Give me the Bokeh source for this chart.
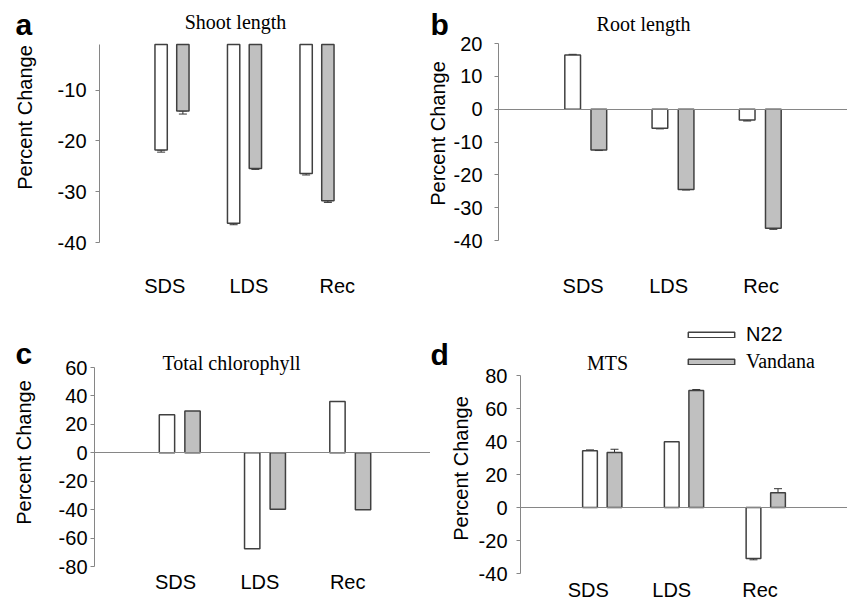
import math
from bokeh.plotting import figure
from bokeh.models import (Range1d, FixedTicker, Label, Whisker, TeeHead, LinearAxis,
                          ColumnDataSource, Legend, LegendItem)
from bokeh.layouts import row, column
from bokeh.embed import file_html
from bokeh.resources import INLINE

# ---------------- data ----------------
categories = ["SDS", "LDS", "Rec"]
series = ["N22", "Vandana"]
ylabel = "Percent Change"

shoot_n22 = [-21.8, -36.2, -26.4]
shoot_n22_err = [0.4, 0.3, 0.3]
shoot_van = [-14.1, -25.4, -31.8]
shoot_van_err = [0.6, 0.2, 0.3]
shoot_ticks = [-40, -30, -20, -10]

root_n22 = [16.5, -5.8, -3.3]
root_n22_err = [0.2, 0.2, 0.3]
root_van = [-12.4, -24.5, -36.3]
root_van_err = [0.2, 0.1, 0.3]
root_ticks = [-40, -30, -20, -10, 0, 10, 20]

chl_n22 = [26.8, -67.5, 36.0]
chl_n22_err = [0.0, 0.0, 0.0]
chl_van = [29.4, -39.7, -40.0]
chl_van_err = [0.0, 0.0, 0.0]
chl_ticks = [-80, -60, -40, -20, 0, 20, 40, 60]

mts_n22 = [34.4, 39.8, -30.9]
mts_n22_err = [0.5, 0.0, 0.8]
mts_van = [33.3, 70.9, 8.9]
mts_van_err = [2.0, 0.6, 2.5]
mts_ticks = [-40, -20, 0, 20, 40, 60, 80]

# ---------------- style ----------------
SANS = "Liberation Sans"
SERIF = "Liberation Serif"
EDGE = "#404040"
AXIS = "#868686"
FILLS = ["#ffffff", "#c0c0c0"]
OFFSET = 0.15


def make_panel(cfg):
    fx0, fy0, fw, fh = cfg["fig"]
    fl, fr, ft, fb = cfg["area"]
    y0, y1 = cfg["yr"]
    sx = 4.0 / (fr - fl)
    sy = (y1 - y0) / (fb - ft)

    def to_data(px, py):
        return (px - fl) * sx, y1 - (py - ft) * sy

    xa0, ya1 = to_data(fx0, fy0)
    xa1, ya0 = to_data(fx0 + fw, fy0 + fh)
    p = figure(width=fw, height=fh, output_backend="svg", toolbar_location=None,
               x_range=Range1d(xa0, xa1), y_range=Range1d(ya0, ya1),
               x_axis_location=None, y_axis_location=None,
               min_border=0, min_border_left=0, min_border_right=0,
               min_border_top=0, min_border_bottom=0)
    p.outline_line_color = None
    p.grid.visible = False
    p.background_fill_color = "white"
    p.border_fill_color = "white"

    # value axis
    ya = LinearAxis(fixed_location=0, bounds=(y0, y1),
                    ticker=FixedTicker(ticks=cfg["ticks"]),
                    major_label_overrides={t: str(t) for t in cfg["ticks"]},
                    axis_line_color=AXIS, major_tick_line_color=AXIS,
                    major_tick_out=4, major_tick_in=0, minor_tick_line_color=None,
                    major_label_text_font=SANS, major_label_text_font_size="20px",
                    major_label_text_color="black", major_label_standoff=cfg["ystand"])
    p.add_layout(ya, "left")

    # category labels
    xpos = [round(i + 1 + s, 2) for i, s in enumerate(cfg["lshift"])]
    xa = LinearAxis(fixed_location=y0, ticker=FixedTicker(ticks=xpos),
                    major_label_overrides={xv: c for xv, c in zip(xpos, categories)},
                    axis_line_color=None, major_tick_line_color=None,
                    minor_tick_line_color=None, major_label_text_font=SANS,
                    major_label_text_font_size="20px", major_label_text_color="black",
                    major_label_standoff=cfg["xstand"])
    p.add_layout(xa, "below")

    # horizontal (zero) axis line
    if cfg["zero"]:
        za = LinearAxis(fixed_location=0, bounds=(0, 4), ticker=FixedTicker(ticks=[]),
                        axis_line_color=AXIS, axis_line_width=1,
                        major_tick_line_color=None, minor_tick_line_color=None)
        p.add_layout(za, "below")

    base = cfg["base"]
    renderers = []
    for k, (vals, errs) in enumerate(cfg["series"]):
        xs = [i + 1 + (2 * k - 1) * OFFSET for i in range(len(categories))]
        src = ColumnDataSource(dict(x=xs, top=vals, bottom=[base] * len(vals)))
        r = p.vbar(x="x", top="top", bottom="bottom", width=cfg["bw"], source=src,
                   fill_color=FILLS[k], line_color=EDGE, line_width=1.5)
        renderers.append(r)
        if any(e > 0 for e in errs):
            lo = [v - e if v < base else v for v, e in zip(vals, errs)]
            hi = [v if v < base else v + e for v, e in zip(vals, errs)]
            es = ColumnDataSource(dict(x=xs, lower=lo, upper=hi))
            w = Whisker(base="x", lower="lower", upper="upper", source=es,
                        line_color="#333333", line_width=1,
                        lower_head=TeeHead(size=8, line_color="#333333", line_width=1),
                        upper_head=TeeHead(size=8, line_color="#333333", line_width=1))
            p.add_layout(w)

    # title
    tx, ty = to_data(*cfg["title_px"])
    p.add_layout(Label(x=tx, y=ty, text=cfg["title"], text_font=SERIF,
                       text_font_size="20px", text_align="center",
                       text_baseline="middle", text_color="black"))
    # panel letter
    lx, ly = to_data(*cfg["letter_px"])
    p.add_layout(Label(x=lx, y=ly, text=cfg["letter"], text_font=SANS,
                       text_font_size="30px", text_font_style="bold",
                       text_align="left", text_baseline="middle", text_color="black"))
    # y label
    ax, ay = to_data(*cfg["ylab_px"])
    p.add_layout(Label(x=ax, y=ay, text=ylabel, text_font=SANS, text_font_size="20px",
                       angle=math.pi / 2, text_align="center", text_baseline="middle",
                       text_color="black"))
    return p, renderers


cfg_a = dict(fig=(0, 0, 420, 300), area=(99, 389, 44, 242), yr=(-40, -1),
             ticks=shoot_ticks, ystand=9, xstand=26, lshift=[-0.10, 0.06, 0.28],
             base=-1, bw=0.17, zero=False,
             series=[(shoot_n22, shoot_n22_err), (shoot_van, shoot_van_err)],
             title="Shoot length", title_px=(235, 21), letter="a", letter_px=(15, 24),
             ylab_px=(24, 117))
cfg_b = dict(fig=(420, 0, 427, 300), area=(498, 847, 43, 240), yr=(-40, 20),
             ticks=root_ticks, ystand=12, xstand=28, lshift=[-0.03, -0.05, 0.01],
             base=0, bw=0.18, zero=True,
             series=[(root_n22, root_n22_err), (root_van, root_van_err)],
             title="Root length", title_px=(643, 23), letter="b", letter_px=(430, 24),
             ylab_px=(437, 133))
cfg_c = dict(fig=(0, 300, 430, 300), area=(94, 435, 367, 566), yr=(-80, 60),
             ticks=chl_ticks, ystand=3, xstand=-2, lshift=[-0.05, -0.06, -0.03],
             base=0, bw=0.18, zero=True,
             series=[(chl_n22, chl_n22_err), (chl_van, chl_van_err)],
             title="Total chlorophyll", title_px=(231, 362), letter="c", letter_px=(15, 353),
             ylab_px=(23, 452))
cfg_d = dict(fig=(430, 300, 417, 300), area=(520, 847, 375, 573), yr=(-40, 80),
             ticks=mts_ticks, ystand=9, xstand=-1, lshift=[-0.17, -0.15, -0.07],
             base=0, bw=0.18, zero=True,
             series=[(mts_n22, mts_n22_err), (mts_van, mts_van_err)],
             title="MTS", title_px=(607, 362), letter="d", letter_px=(430, 354),
             ylab_px=(460, 468))

pa, _ = make_panel(cfg_a)
pb, _ = make_panel(cfg_b)
pc, _ = make_panel(cfg_c)
pd, rd = make_panel(cfg_d)

# legend (two single-item legends: the original uses different faces)
fx0_d = cfg_d["fig"][0]
leg_fonts = [SANS, SERIF]
leg_loc = [(682 - fx0_d, 254), (682 - fx0_d, 227)]
for k in range(2):
    lg = Legend(items=[LegendItem(label=series[k], renderers=[rd[k]])],
                location=leg_loc[k], glyph_width=58, glyph_height=7,
                label_standoff=6, label_text_font=leg_fonts[k],
                label_text_font_size="20px", label_text_color="black",
                padding=0, margin=0, spacing=0, border_line_color=None,
                background_fill_alpha=0)
    pd.add_layout(lg)

layout = column(row(pa, pb), row(pc, pd))
open("out.html", "w").write(file_html(layout, INLINE))
